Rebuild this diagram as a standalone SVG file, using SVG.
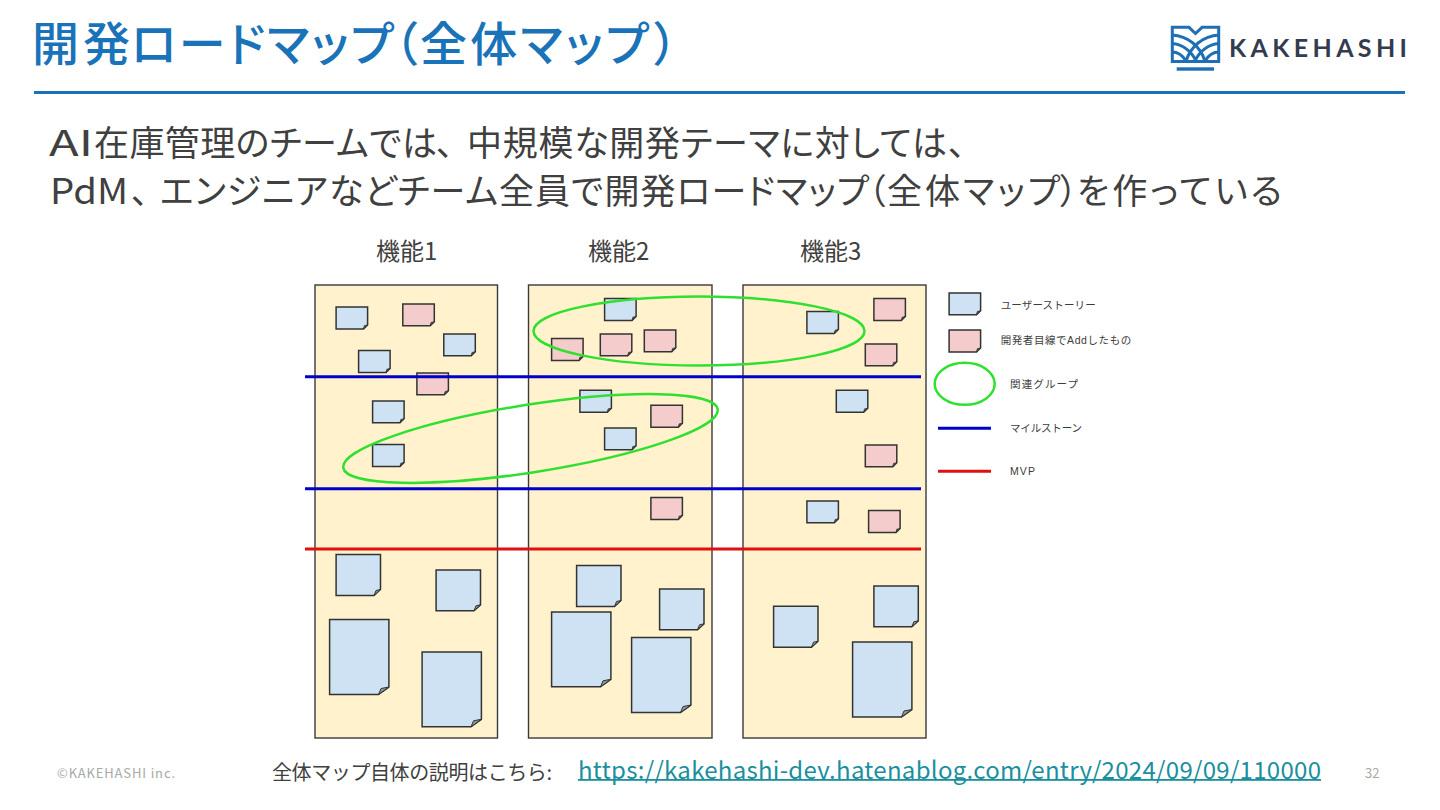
<svg xmlns="http://www.w3.org/2000/svg" width="1440" height="810" viewBox="0 0 1440 810">
<style>
text{font-family:"Noto Sans CJK JP","Noto Sans",sans-serif}
.col{fill:#fff2cc;stroke:#3a3a3a;stroke-width:1.4}
.blue{fill:#cfe2f3}
.pink{fill:#f4cccc}
.edge{stroke:#333;stroke-width:1.5}
.fold{fill:#555;stroke:#333;stroke-width:.8}
.foldl{fill:#8a9aa0;stroke:#333;stroke-width:1}
.ms{stroke:#0000c8;stroke-width:3;fill:none}
.mvp{stroke:#e01010;stroke-width:3;fill:none}
.grp{fill:none;stroke:#2fe02f;stroke-width:2.5}
.collabel{font-size:24px;fill:#404040}
.title{font-size:47px;font-weight:500;fill:#1a73b8;font-feature-settings:"palt"}
.body{font-size:35px;fill:#404040;font-feature-settings:"palt"}
.leg{font-size:10.5px;fill:#3c3c3c;font-family:"Liberation Sans","Noto Sans CJK JP",sans-serif}
.logo{fill:none;stroke:#1e6fb5;stroke-width:3}
</style>
<defs>
<g id="s"><path class="edge" d="M0.6 0.6H32.1V18.5L28 22.5H0.6Z"/><path class="fold" d="M32.1 18.5L28 22.5L28.8 19.2Z"/></g>
<g id="m"><path class="edge" d="M0.6 0.6H45V35.5L38.5 41.5H0.6Z"/><path class="foldl" d="M45 35.5L38.5 41.5L40.5 36.5Z"/></g>
<g id="l"><path class="edge" d="M0.6 0.6H59.9V68L49.5 75.5H0.6Z"/><path class="foldl" d="M59.9 68L49.5 75.5L52 69.5Z"/></g>
</defs>
<rect width="1440" height="810" fill="#fff"/>

<g id="header">
<text class="title" y="61"><tspan x="32" textLength="98" lengthAdjust="spacing">開発</tspan><tspan x="131" textLength="263" lengthAdjust="spacing">ロードマップ</tspan><tspan x="394">（</tspan><tspan x="420" textLength="229" lengthAdjust="spacing">全体マップ</tspan><tspan x="654">）</tspan></text>
<rect x="34" y="91" width="1371" height="3" fill="#1a73b8"/>
</g>
<g id="logo">
<path class="logo" d="M1172.3 27.3H1189L1195.5 33.5L1202 27.3H1218.7V61.4H1172.3Z"/>
<path class="logo" d="M1172 35C1188 36 1200 46 1205 61M1172 43.5C1183 44 1192 52 1196 61M1172 52C1178 52 1183 56 1186 61M1219 35C1203 36 1191 46 1186 61M1219 43.5C1208 44 1199 52 1195 61M1219 52C1213 52 1208 56 1205 61"/>
<rect x="1176.7" y="67.3" width="37.3" height="3.4" fill="#1e6fb5"/>
<text x="1229" y="57" font-size="25" font-weight="700" fill="#333c4e" style="font-family:Lato,sans-serif" textLength="178" lengthAdjust="spacing">KAKEHASHI</text>
</g>

<g id="intro">
<text class="body" y="156"><tspan x="49" textLength="44" lengthAdjust="spacingAndGlyphs">AI</tspan><tspan x="94" textLength="343" lengthAdjust="spacing">在庫管理のチームでは</tspan><tspan x="436">、</tspan><tspan x="467" textLength="480" lengthAdjust="spacing">中規模な開発テーマに対しては</tspan><tspan x="948">、</tspan></text>
<text class="body" y="204"><tspan x="50" textLength="78" lengthAdjust="spacingAndGlyphs">PdM</tspan><tspan x="131">、</tspan><tspan x="160" textLength="709" lengthAdjust="spacing">エンジニアなどチーム全員で開発ロードマップ</tspan><tspan x="868">（</tspan><tspan x="887" textLength="173" lengthAdjust="spacing">全体マップ</tspan><tspan x="1060">）</tspan><tspan x="1077" textLength="205" lengthAdjust="spacing">を作っている</tspan></text>
</g>

<g id="col1"><rect class="col" x="315" y="285" width="182.5" height="453"/><text class="collabel" x="376" y="260">機能1</text></g>
<g id="col2"><rect class="col" x="528.5" y="285" width="183.5" height="453"/><text class="collabel" x="588" y="260">機能2</text></g>
<g id="col3"><rect class="col" x="743" y="285" width="183" height="453"/><text class="collabel" x="800" y="260">機能3</text></g>

<g id="notes-col1">
<use id="n1" href="#s" class="blue" x="335.5" y="306.5"/>
<use id="n2" href="#s" class="pink" x="402.2" y="303.3"/>
<use id="n3" href="#s" class="blue" x="443.2" y="333.3"/>
<use id="n4" href="#s" class="blue" x="358" y="350"/>
<use id="n5" href="#s" class="pink" x="416.3" y="372.3"/>
<use id="n6" href="#s" class="blue" x="372" y="400.3"/>
<use id="n7" href="#s" class="blue" x="372" y="444"/>
<use id="n8" href="#m" class="blue" x="335.5" y="554"/>
<use id="n9" href="#m" class="blue" x="435.5" y="569.3"/>
<use id="n10" href="#l" class="blue" x="329" y="619"/>
<use id="n11" href="#l" class="blue" x="421.5" y="651.3"/>
</g>
<g id="notes-col2">
<use id="n12" href="#s" class="blue" x="604" y="298"/>
<use id="n13" href="#s" class="pink" x="551" y="338"/>
<use id="n14" href="#s" class="pink" x="599.7" y="333.3"/>
<use id="n15" href="#s" class="pink" x="643.7" y="329.3"/>
<use id="n16" href="#s" class="blue" x="579.3" y="389.7"/>
<use id="n17" href="#s" class="pink" x="650.3" y="404.7"/>
<use id="n18" href="#s" class="blue" x="604" y="427.3"/>
<use id="n19" href="#s" class="pink" x="650.3" y="497"/>
<use id="n20" href="#m" class="blue" x="576" y="565"/>
<use id="n21" href="#m" class="blue" x="659" y="588.3"/>
<use id="n22" href="#l" class="blue" x="551" y="611.3"/>
<use id="n23" href="#l" class="blue" x="631" y="637"/>
</g>
<g id="notes-col3">
<use id="n24" href="#s" class="pink" x="873.3" y="298"/>
<use id="n25" href="#s" class="blue" x="806.3" y="311"/>
<use id="n26" href="#s" class="pink" x="864.7" y="343.3"/>
<use id="n27" href="#s" class="blue" x="835.7" y="389.7"/>
<use id="n28" href="#s" class="pink" x="864.7" y="444.3"/>
<use id="n29" href="#s" class="blue" x="806.3" y="500.3"/>
<use id="n30" href="#s" class="pink" x="868" y="510"/>
<use id="n31" href="#m" class="blue" x="773" y="605.7"/>
<use id="n32" href="#m" class="blue" x="873.3" y="585.3"/>
<use id="n33" href="#l" class="blue" x="852" y="641.5"/>
</g>

<g id="connectors">
<line class="ms" x1="305" y1="376.7" x2="921" y2="376.7"/>
<line class="ms" x1="305" y1="488.7" x2="921" y2="488.7"/>
<line class="mvp" x1="305" y1="549" x2="921" y2="549"/>
</g>
<g id="groups">
<ellipse id="group-a" class="grp" cx="699" cy="331" rx="165.5" ry="34.5"/>
<ellipse id="group-b" class="grp" cx="530.5" cy="438.5" rx="189.5" ry="33.8" transform="rotate(-8.9 530.5 438.5)"/>
</g>

<g id="legend">
<g id="legend-story"><use href="#s" class="blue" x="948.5" y="292.3"/><text class="leg" x="1000.7" y="309" textLength="95" lengthAdjust="spacing">ユーザーストーリー</text></g>
<g id="legend-dev"><use href="#s" class="pink" x="948.5" y="329.5"/><text class="leg" x="1000.7" y="343.5" textLength="130.5" lengthAdjust="spacing">開発者目線でAddしたもの</text></g>
<g id="legend-group"><ellipse class="grp" cx="964.7" cy="383.8" rx="30" ry="21"/><text class="leg" x="1010" y="388" textLength="68" lengthAdjust="spacing">関連グループ</text></g>
<g id="legend-ms"><line class="ms" x1="938" y1="428.3" x2="991" y2="428.3"/><text class="leg" x="1010" y="432" textLength="72" lengthAdjust="spacing">マイルストーン</text></g>
<g id="legend-mvp"><line class="mvp" x1="938" y1="471.3" x2="991" y2="471.3"/><text class="leg" x="1010" y="475" textLength="25" lengthAdjust="spacing">MVP</text></g>
</g>

<g id="footer">
<text x="57" y="778" font-size="13" fill="#a8a8a8" textLength="118" lengthAdjust="spacing">©KAKEHASHI inc.</text>
<text x="272" y="780" font-size="20" fill="#404040" textLength="280" lengthAdjust="spacing">全体マップ自体の説明はこちら:</text>
<text x="578" y="779" font-size="24" fill="#1a8f9e" textLength="743" lengthAdjust="spacing">https://kakehashi-dev.hatenablog.com/entry/2024/09/09/110000</text>
<rect x="578" y="779" width="743" height="1.8" fill="#1a8f9e"/>
<text x="1365" y="778" font-size="13" fill="#a8a8a8">32</text>
</g>
</svg>
